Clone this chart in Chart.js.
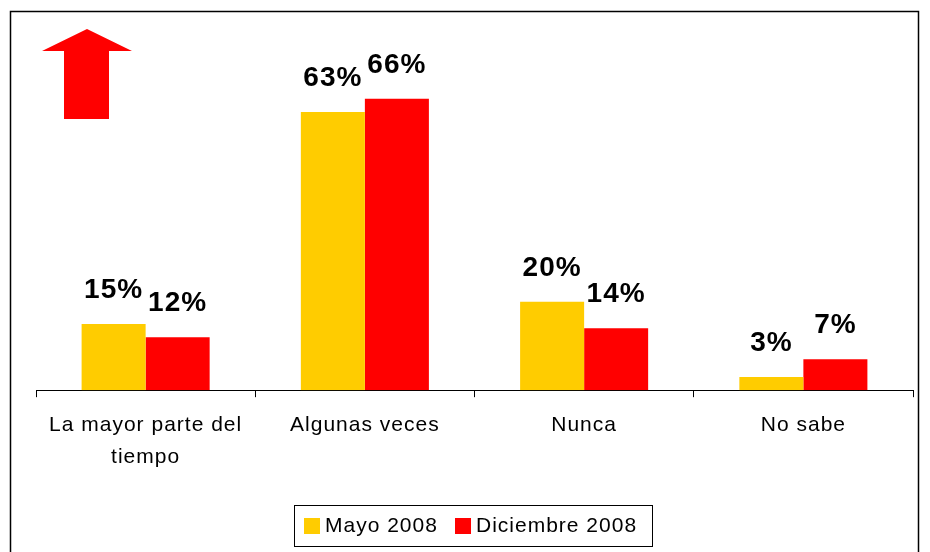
<!DOCTYPE html>
<html>
<head>
<meta charset="utf-8">
<script src="https://cdn.jsdelivr.net/npm/chart.js@4/dist/chart.umd.min.js"></script>
<style>
  html, body { margin: 0; padding: 0; background: #fff; }
  #wrap { width: 930px; height: 552px; }
</style>
</head>
<body>
<div id="wrap"><canvas id="chart"></canvas></div>
<script>
const categories = [["La mayor parte del", "tiempo"], "Algunas veces", "Nunca", "No sabe"];
const seriesNames = ["Mayo 2008", "Diciembre 2008"];
const mayo2008 = [15, 63, 20, 3];
const diciembre2008 = [12, 66, 14, 7];
const seriesColors = ["#FFCC00", "#FF0000"];

const FONT = "'Liberation Sans', Arial, sans-serif";

// frame, arrow, value labels, boxed legend
const decorations = {
  id: "decorations",
  beforeDraw(chart) {
    const ctx = chart.ctx;
    ctx.save();
    ctx.strokeStyle = "#000";
    ctx.lineWidth = 1.5;
    ctx.strokeRect(10.5, 11.5, 908, 560);
    // red arrow
    ctx.fillStyle = "#FF0000";
    ctx.beginPath();
    ctx.moveTo(87, 29);
    ctx.lineTo(132, 51);
    ctx.lineTo(109, 51);
    ctx.lineTo(109, 119);
    ctx.lineTo(64, 119);
    ctx.lineTo(64, 51);
    ctx.lineTo(42, 51);
    ctx.closePath();
    ctx.fill();
    ctx.restore();
    // wider spacing for the axis labels, like the original
    ctx.letterSpacing = "1px";
  },
  afterDatasetsDraw(chart) {
    const ctx = chart.ctx;
    ctx.save();
    ctx.letterSpacing = "1px";
    ctx.fillStyle = "#000";
    ctx.font = "bold 28px " + FONT;
    ctx.textAlign = "center";
    ctx.textBaseline = "alphabetic";
    chart.data.datasets.forEach((ds, i) => {
      chart.getDatasetMeta(i).data.forEach((bar, j) => {
        ctx.fillText(ds.data[j] + "%", bar.x, bar.y - 26);
      });
    });

    // legend
    ctx.strokeStyle = "#000";
    ctx.lineWidth = 1;
    ctx.strokeRect(294.5, 505.5, 358, 41);
    ctx.font = "21px " + FONT;
    ctx.textAlign = "left";
    ctx.textBaseline = "middle";
    const items = [{ box: 304, text: 325 }, { box: 455, text: 476 }];
    chart.data.datasets.forEach((ds, i) => {
      ctx.fillStyle = ds.backgroundColor;
      ctx.fillRect(items[i].box, 518, 16, 16);
      ctx.fillStyle = "#000";
      ctx.fillText(ds.label, items[i].text, 526);
    });
    ctx.restore();
  }
};

new Chart(document.getElementById("chart"), {
  type: "bar",
  data: {
    labels: categories,
    datasets: [
      { label: seriesNames[0], data: mayo2008, backgroundColor: seriesColors[0] },
      { label: seriesNames[1], data: diciembre2008, backgroundColor: seriesColors[1] }
    ]
  },
  options: {
    responsive: true,
    maintainAspectRatio: false,
    animation: false,
    layout: { padding: { left: 36, right: 17, top: 37, bottom: 67 } },
    datasets: {
      bar: { categoryPercentage: 0.584, barPercentage: 1.0 }
    },
    plugins: {
      legend: { display: false },
      tooltip: { enabled: false }
    },
    scales: {
      x: {
        grid: {
          display: true,
          drawOnChartArea: false,
          drawTicks: true,
          tickLength: 7,
          offset: true,
          color: "#000"
        },
        border: { display: true, color: "#000", width: 1 },
        ticks: {
          color: "#000",
          padding: 12,
          maxRotation: 0,
          font: { family: FONT, size: 21, lineHeight: 1.52 }
        }
      },
      y: {
        display: false,
        min: 0,
        max: 80
      }
    }
  },
  plugins: [decorations]
});
</script>
</body>
</html>
